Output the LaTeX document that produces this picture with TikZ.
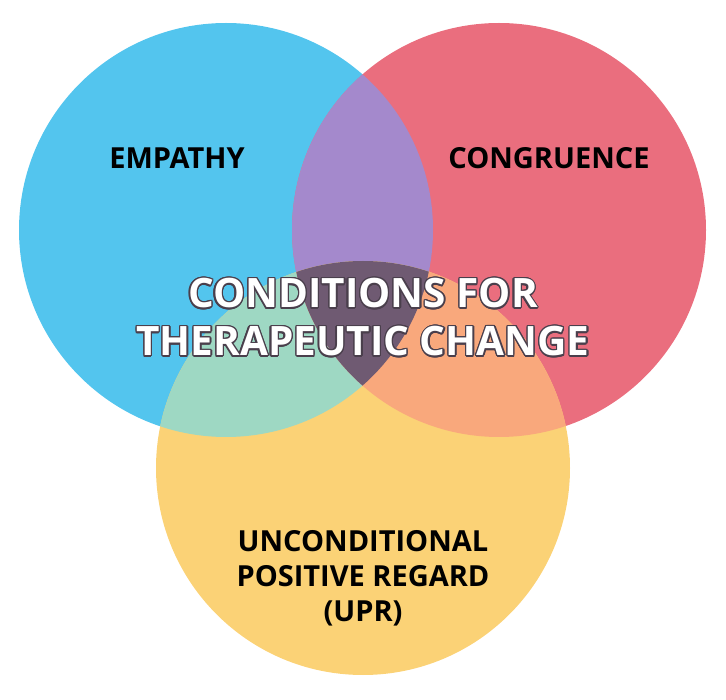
\documentclass[tikz,border=0pt]{standalone}
\usepackage{fontspec}
\setmainfont{Open Sans}
\usepackage[copies]{contour}
\contourlength{1.3pt}
\usetikzlibrary{positioning}

\definecolor{cempathy}{HTML}{53C5EE}
\definecolor{ccongruence}{HTML}{EA6E7E}
\definecolor{cregard}{HTML}{FBD276}
\definecolor{cpurple}{HTML}{A489CC}
\definecolor{cgreen}{HTML}{9ED8C3}
\definecolor{corange}{HTML}{F9A87C}
\definecolor{ccentre}{HTML}{6F5A72}
\definecolor{coutline}{HTML}{4A3F4C}

\tikzset{
  every label text/.style={font=\fontsize{29}{35}\selectfont\bfseries, text=black, align=center},
  centre text/.style={font=\fontsize{40.5}{48}\selectfont\bfseries, text=white, align=center}
}

\begin{document}
\begin{tikzpicture}[x=1pt, y=-1pt]
\useasboundingbox (0,0) rectangle (726,700);

\fill [cempathy] (226,230) circle (207);
\fill [ccongruence] (499,230) circle (207);
\fill [cregard] (363,468) circle (207);

% overlaps
\begin{scope}
  \clip (226,230) circle (207);
  \fill [cpurple] (499,230) circle (207);
  \fill [cgreen] (363,468) circle (207);
\end{scope}
\begin{scope}
  \clip (499,230) circle (207);
  \fill [corange] (363,468) circle (207);
\end{scope}
\begin{scope}
  \clip (226,230) circle (207);
  \clip (499,230) circle (207);
  \fill [ccentre] (363,468) circle (207);
\end{scope}

\node [every label text] (empathy) at (177,158) {EMPATHY};
\node [every label text] (congruence) at (549,158) {CONGRUENCE};
\node [every label text] (regard) at (363,578) {UNCONDITIONAL\\POSITIVE REGARD\\(UPR)};

\node [centre text] (conditions) at (363,318)
  {\contour{coutline}{CONDITIONS FOR}\\\contour{coutline}{THERAPEUTIC CHANGE}};

\end{tikzpicture}
\end{document}
